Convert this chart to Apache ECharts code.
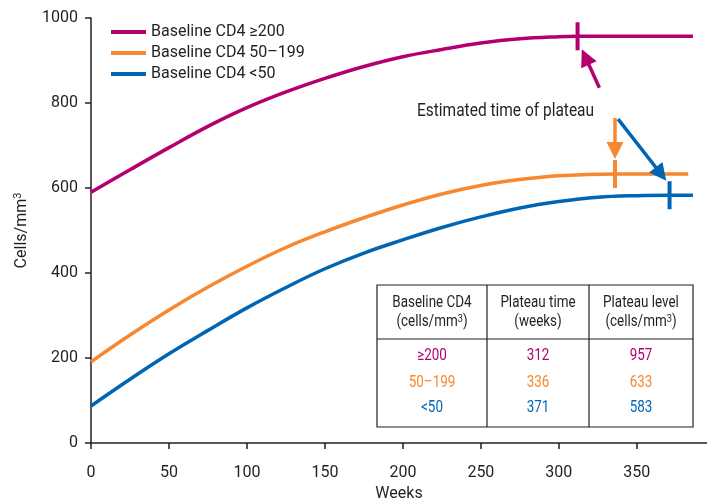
<!DOCTYPE html>
<html>
<head>
<meta charset="utf-8">
<script src="https://cdn.jsdelivr.net/npm/echarts@6/dist/echarts.min.js"></script>
<style>
  html, body { margin: 0; padding: 0; background: #fff; }
  #chart { width: 707px; height: 501px; }
</style>
</head>
<body>
<div id="chart"></div>
<script>
const seriesNames = ['Baseline CD4 ≥200', 'Baseline CD4 50–199', 'Baseline CD4 <50'];
const colors = ['#b3006e', '#f7882f', '#0066b3'];

// curves (weeks, cells/mm3)
const highWeeks = [0, 25, 50, 75, 100, 125, 150, 175, 200, 225, 250, 275, 300, 312, 386];
const highCells = [590, 643, 695, 745, 789, 826, 858, 886, 909, 926, 941, 951, 956, 957, 957];
const midWeeks = [0, 25, 50, 75, 100, 125, 150, 175, 200, 225, 250, 275, 300, 336, 383];
const midCells = [191, 254, 313, 367, 416, 460, 497, 530, 560, 586, 606, 620, 629, 633, 633];
const lowWeeks = [0, 25, 50, 75, 100, 125, 150, 175, 200, 225, 250, 275, 300, 325, 350, 371, 386];
const lowCells = [87, 150, 210, 265, 318, 366, 410, 447, 478, 507, 532, 553, 568, 578, 582, 583, 583];

// table / plateau values
const groupLabels = ['≥200', '50–199', '<50'];
const plateauTimes = [312, 336, 371];
const plateauLevels = [957, 633, 583];

// annotation arrows (tail, head) in data units
const arrowFrom = [[326, 836], [336, 765], [338, 762]];
const arrowTo = [[317, 908], [336, 688], [365.5, 633]];

const FONT = "Roboto, 'Liberation Sans', sans-serif";
const INK = '#231f20';

const pairs = (xs, ys) => xs.map((x, i) => [x, ys[i]]);
const curves = [pairs(highWeeks, highCells), pairs(midWeeks, midCells), pairs(lowWeeks, lowCells)];

const chart = echarts.init(document.getElementById('chart'));

const series = curves.map((d, i) => ({
  name: seriesNames[i],
  type: 'line',
  data: d,
  smooth: 0.4,
  showSymbol: false,
  lineStyle: { width: 3.5, color: colors[i] },
  itemStyle: { color: colors[i] },
  z: 3
}));

series.push({
  type: 'scatter',
  data: plateauTimes.map((t, i) => ({ value: [t, plateauLevels[i]], itemStyle: { color: colors[i], opacity: 1 } })),
  symbol: 'rect',
  symbolSize: [4, 28],
  z: 4
});

series.push({
  type: 'lines',
  coordinateSystem: 'cartesian2d',
  data: arrowFrom.map((f, i) => ({ coords: [f, arrowTo[i]], lineStyle: { color: colors[i] } })),
  symbol: ['none', 'triangle'],
  symbolSize: [15, 17],
  lineStyle: { width: 3.5, opacity: 1 },
  z: 5
});

// table drawn as graphic
const tbl = { left: 377, top: 285, right: 693, bottom: 427, col1: 487, col2: 589, headBottom: 339 };
const colCenters = [(tbl.left + tbl.col1) / 2, (tbl.col1 + tbl.col2) / 2, (tbl.col2 + tbl.right) / 2];
const rowCenters = [356, 383, 408];
const lineStyle = { stroke: INK, lineWidth: 1.2 };
const graphic = [
  { type: 'rect', shape: { x: tbl.left, y: tbl.top, width: tbl.right - tbl.left, height: tbl.bottom - tbl.top },
    style: { fill: '#fff', stroke: INK, lineWidth: 1.2 }, z: 10 },
  { type: 'line', shape: { x1: tbl.col1, y1: tbl.top, x2: tbl.col1, y2: tbl.bottom }, style: lineStyle, z: 11 },
  { type: 'line', shape: { x1: tbl.col2, y1: tbl.top, x2: tbl.col2, y2: tbl.bottom }, style: lineStyle, z: 11 },
  { type: 'line', shape: { x1: tbl.left, y1: tbl.headBottom, x2: tbl.right, y2: tbl.headBottom }, style: lineStyle, z: 11 },
  { type: 'text', x: 417, y: 111, scaleX: 0.86, z: 11,
    style: { text: 'Estimated time of plateau', font: '18px ' + FONT, fill: INK, verticalAlign: 'middle' } }
];
const headers = [['Baseline CD4', '(cells/mm{sup|3})'], ['Plateau time', '(weeks)'], ['Plateau level', '(cells/mm{sup|3})']];
headers.forEach((h, c) => {
  h.forEach((t, r) => {
    graphic.push({ type: 'text', x: colCenters[c], y: r === 0 ? 303 : 322, scaleX: 0.84, z: 11,
      style: { text: t, font: '16px ' + FONT, fill: INK, align: 'center', verticalAlign: 'middle',
        rich: { sup: { fontSize: 11, fontFamily: FONT, fill: INK, verticalAlign: 'top', padding: [0, 0, 6, 0] } } } });
  });
});
groupLabels.forEach((g, i) => {
  [g, String(plateauTimes[i]), String(plateauLevels[i])].forEach((t, c) => {
    graphic.push({ type: 'text', x: colCenters[c], y: rowCenters[i], scaleX: 0.84, z: 11,
      style: { text: t, font: '16px ' + FONT, fill: colors[i], align: 'center', verticalAlign: 'middle' } });
  });
});

chart.setOption({
  animation: false,
  backgroundColor: '#fff',
  grid: { left: 91, right: 0, top: 18, bottom: 58, outerBoundsMode: 'none', containLabel: false },
  legend: {
    data: seriesNames,
    orient: 'vertical',
    left: 106,
    top: 19,
    icon: 'rect',
    itemWidth: 35,
    itemHeight: 4,
    itemGap: 5,
    textStyle: { fontSize: 16, fontFamily: FONT, color: INK }
  },
  xAxis: {
    type: 'value',
    min: 0,
    max: 395,
    interval: 50,
    name: 'Weeks',
    nameLocation: 'middle',
    nameGap: 43,
    nameTextStyle: { fontSize: 16, fontFamily: FONT, color: INK },
    axisLine: { lineStyle: { color: INK, width: 1.5 } },
    axisTick: { length: 6, lineStyle: { color: INK, width: 1.5 } },
    axisLabel: { fontSize: 16, fontFamily: FONT, color: INK, margin: 22, showMaxLabel: false },
    splitLine: { show: false }
  },
  yAxis: {
    type: 'value',
    min: 0,
    max: 1000,
    interval: 200,
    name: 'Cells/mm{sup|3}',
    nameLocation: 'middle',
    nameGap: 60,
    nameTextStyle: { fontSize: 16, fontFamily: FONT, color: INK,
      rich: { sup: { fontSize: 11, fontFamily: FONT, color: INK, verticalAlign: 'top', padding: [0, 0, 7, 0] } } },
    axisLine: { show: true, lineStyle: { color: INK, width: 1.5 } },
    axisTick: { show: true, length: 6, lineStyle: { color: INK, width: 1.5 } },
    axisLabel: { fontSize: 16, fontFamily: FONT, color: INK, margin: 13, formatter: v => String(v) },
    splitLine: { show: false }
  },
  series: series,
  graphic: graphic
});
</script>
</body>
</html>
